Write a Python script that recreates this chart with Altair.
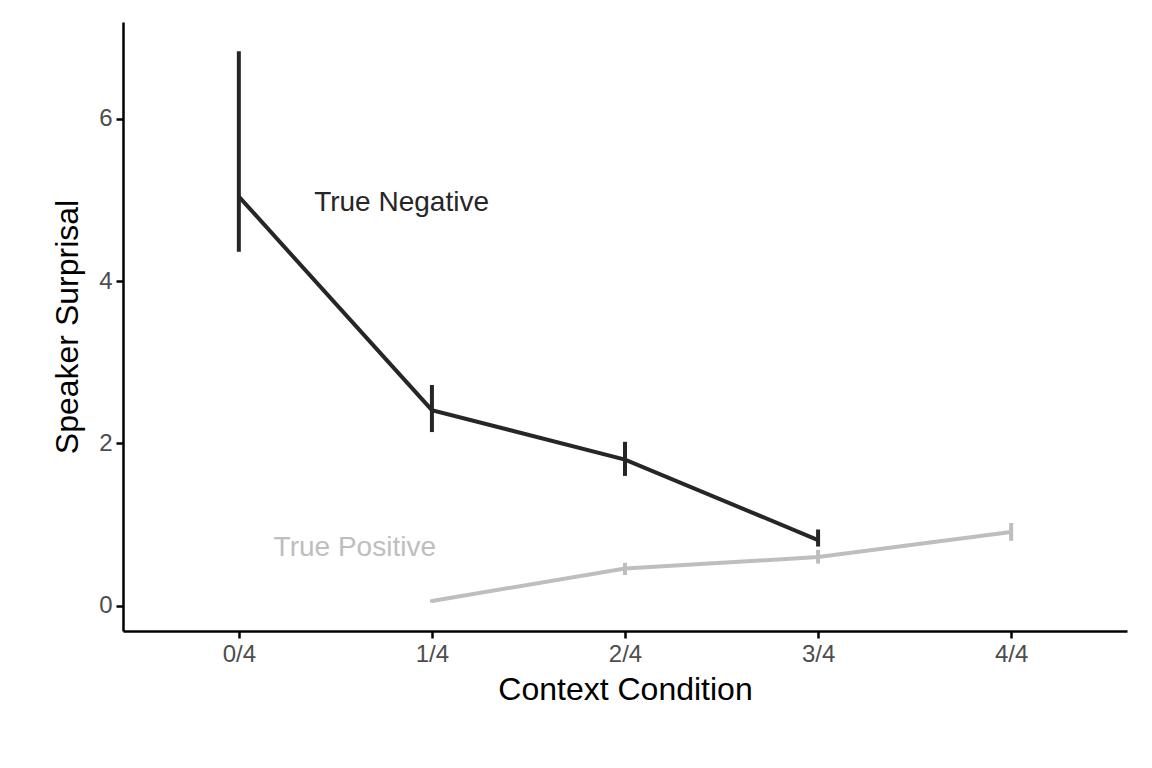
import altair as alt
import pandas as pd

cond = [0, 1, 2, 3, 1, 2, 3, 4]
series = ["True Negative"]*4 + ["True Positive"]*4
mean = [5.04, 2.41, 1.80, 0.81, 0.06, 0.46, 0.60, 0.91]
lo = [4.36, 2.14, 1.60, 0.73, 0.04, 0.38, 0.52, 0.80]
hi = [6.83, 2.72, 2.02, 0.94, 0.08, 0.53, 0.69, 1.02]
labels_txt = ["True Negative", "True Positive"]
labels_x = [0.39, 0.18]
labels_y = [4.96, 0.71]

df = pd.DataFrame(dict(cond=cond, series=series, mean=mean, lo=lo, hi=hi))
lab = pd.DataFrame(dict(t=labels_txt, x=labels_x, y=labels_y))

colors = alt.Scale(domain=labels_txt, range=["#262626", "#bebebe"])
xs = alt.Scale(domain=[-0.6, 4.6], nice=False, zero=False)
ys = alt.Scale(domain=[-0.31, 7.19], nice=False, zero=False)

common = dict(grid=False, domainColor="black", domainWidth=2.5, tickColor="black", tickWidth=2.5,
              tickSize=7, labelFontSize=24, labelColor="#4d4d4d", labelFont="Liberation Sans",
              labelPadding=4, titleFontSize=32, titleFont="Liberation Sans",
              titleFontWeight="normal", titleColor="black")
xax = alt.Axis(values=[0, 1, 2, 3, 4], labelExpr="datum.value + '/4'", title="Context Condition",
               titlePadding=8, **common)
yax = alt.Axis(values=[0, 2, 4, 6], format="d", title="Speaker Surprisal", titlePadding=14, **common)

base = alt.Chart(df)
line = base.mark_line(strokeWidth=4).encode(
    x=alt.X("cond:Q", scale=xs, axis=xax),
    y=alt.Y("mean:Q", scale=ys, axis=yax),
    color=alt.Color("series:N", scale=colors, legend=None),
)
err = base.mark_rule(strokeWidth=4).encode(
    x="cond:Q", y="lo:Q", y2="hi:Q",
    color=alt.Color("series:N", scale=colors, legend=None),
)
txt = alt.Chart(lab).mark_text(align="left", fontSize=28, font="Liberation Sans").encode(
    x="x:Q", y="y:Q", text="t:N",
    color=alt.Color("t:N", scale=alt.Scale(domain=labels_txt, range=["#000000", "#b0b0b0"]), legend=None),
)

chart = (line + err + txt).properties(
    width=1004, height=609,
    autosize=alt.AutoSizeParams(type="none"),
    padding={"left": 115, "top": 14, "right": 10, "bottom": 120},
).configure_view(stroke=None)

chart.save("out.html", embed_options={"renderer": "svg", "actions": False})
